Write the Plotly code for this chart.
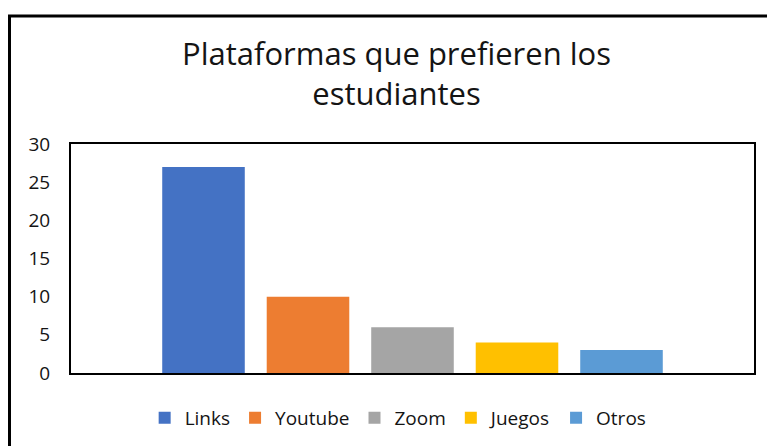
import plotly.graph_objects as go

# Data
series_names = ["Links", "Youtube", "Zoom", "Juegos", "Otros"]
series_values = [27, 10, 6, 4, 3]
category = [""]
series_colors = ["#4472C4", "#ED7D31", "#A5A5A5", "#FFC000", "#5B9BD5"]
y_ticks = [0, 5, 10, 15, 20, 25, 30]

FONT = "Open Sans"
TEXT = "#141414"

fig = go.Figure()
for name, val, col in zip(series_names, series_values, series_colors):
    fig.add_trace(go.Bar(x=category, y=[val], name=name, marker=dict(color=col, line=dict(width=0))))

# figure geometry (page body has an 8px offset)
W, H = 775, 446
L, R, T, B = 63, 29, 136, 81
pw, ph = W - L - R, H - T - B
def px(xf):
    return (xf - L) / pw
def py(yf):
    return (H - B - yf) / ph

fig.update_layout(
    width=W, height=H,
    margin=dict(l=L, r=R, t=T, b=B),
    paper_bgcolor="white", plot_bgcolor="white",
    barmode="group", bargap=0.235, bargroupgap=0.21,
    title=dict(text="Plataformas que prefieren los<br>estudiantes",
               x=388.5 / W, xanchor="center", xref="container",
               y=1 - 57 / H, yanchor="top", yref="container",
               font=dict(family=FONT, size=31, color=TEXT)),
    showlegend=True,
    legend=dict(orientation="h", x=0.479, xanchor="center", y=py(410), yanchor="middle",
                font=dict(family=FONT, size=19, color=TEXT), traceorder="normal",
                bgcolor="rgba(0,0,0,0)"),
    xaxis=dict(showticklabels=False, showgrid=False, zeroline=False, ticks="",
               showline=True, linecolor="black", linewidth=2, mirror=True),
    yaxis=dict(range=[0, 30], tickvals=y_ticks, showgrid=False, zeroline=False, ticks="",
               showline=True, linecolor="black", linewidth=2, mirror=True,
               tickfont=dict(family=FONT, size=19, color=TEXT), ticklabelstandoff=15),
    shapes=[
        dict(type="line", xref="paper", yref="paper", x0=px(1.5), x1=px(1.5), y0=py(8), y1=py(460),
             line=dict(color="black", width=3)),
        dict(type="line", xref="paper", yref="paper", x0=px(0), x1=px(790), y0=py(8), y1=py(8),
             line=dict(color="black", width=3)),
    ],
)

fig.write_html("out.html")
